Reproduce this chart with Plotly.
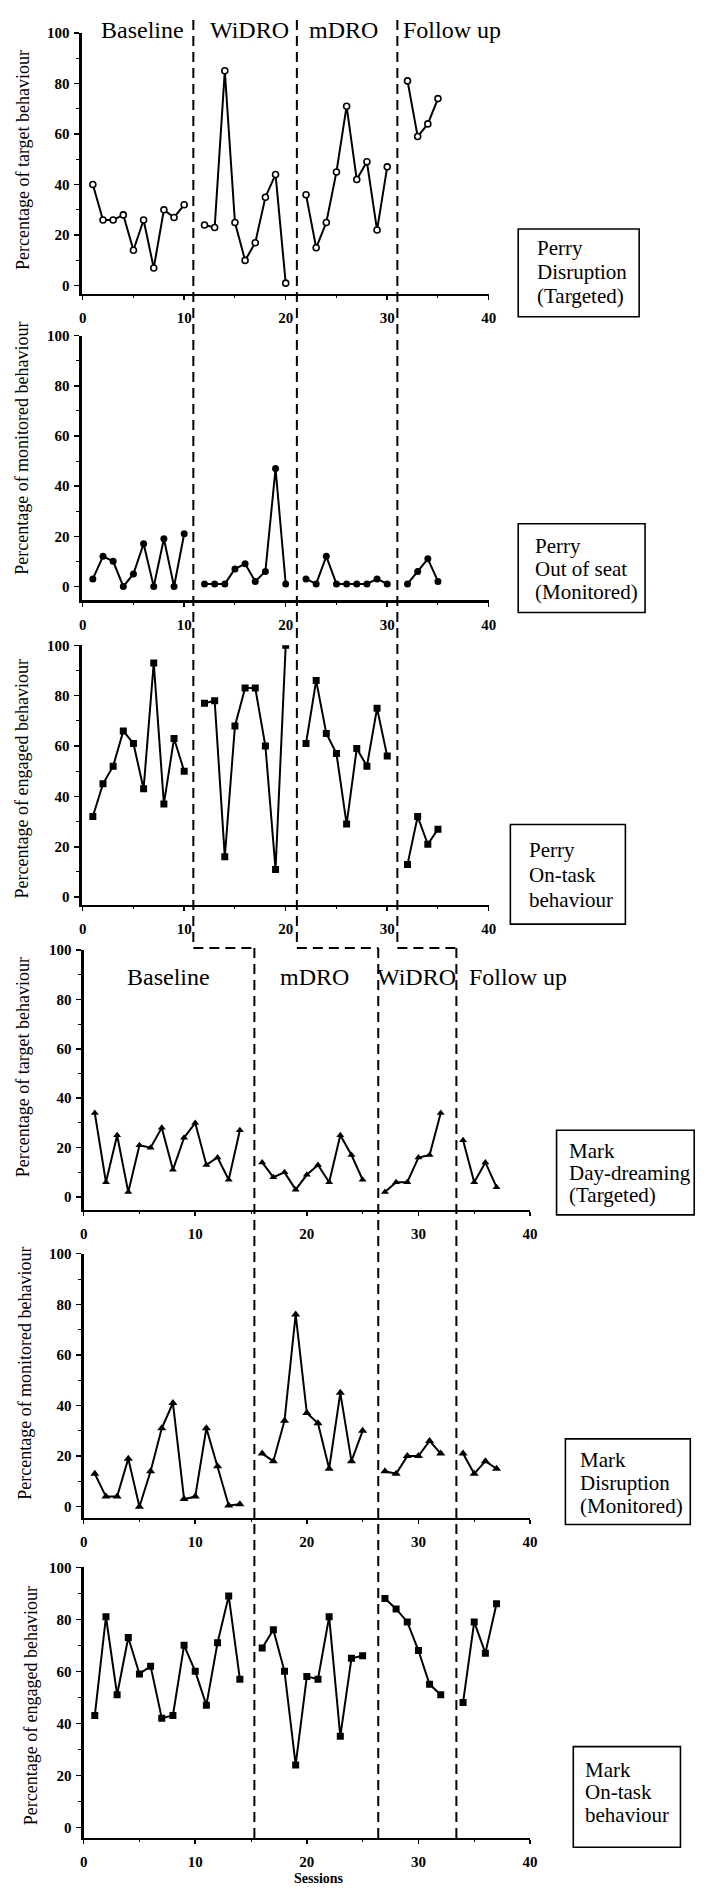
import plotly.graph_objects as go

W, H = 715, 1889
SERIF = "Liberation Serif"

# ---------------- data ----------------
perry_sessions = list(range(1, 36))
perry_disruption = [40, 26, 26, 28, 14, 26, 7, 30, 27, 32, None,
                    24, 23, 85, 25, 10, 17, 35, 44, 1, None,
                    36, 15, 25, 45, 71, 42, 49, 22, 47, None,
                    81, 59, 64, 74]
perry_out_of_seat = [3, 12, 10, 0, 5, 17, 0, 19, 0, 21, None,
                     1, 1, 1, 7, 9, 2, 6, 47, 1, None,
                     3, 1, 12, 1, 1, 1, 1, 3, 1, None,
                     1, 6, 11, 2]
perry_on_task = [32, 45, 52, 66, 61, 43, 93, 37, 63, 50, None,
                 77, 78, 16, 68, 83, 83, 60, 11, 100, None,
                 61, 86, 65, 57, 29, 59, 52, 75, 56, None,
                 13, 32, 21, 27]

mark_sessions = list(range(1, 38))
mark_daydreaming = [34, 6, 25, 2, 21, 20, 28, 11, 24, 30, 13, 16, 7, 27, None,
                    14, 8, 10, 3, 9, 13, 6, 25, 17, 7, None,
                    2, 6, 6, 16, 17, 34, None,
                    23, 6, 14, 4]
mark_disruption = [13, 4, 4, 19, 0, 14, 31, 41, 3, 4, 31, 16, 0.5, 1, None,
                   21, 18, 34, 76, 37, 33, 15, 45, 18, 30, None,
                   14, 13, 20, 20, 26, 21, None,
                   21, 13, 18, 15]
mark_on_task = [43, 81, 51, 73, 59, 62, 42, 43, 70, 60, 47, 71, 89, 57, None,
                69, 76, 60, 24, 58, 57, 81, 35, 65, 66, None,
                88, 84, 79, 68, 55, 51, None,
                48, 79, 67, 86]

perry_phases = ["Baseline", "WiDRO", "mDRO", "Follow up"]
mark_phases = ["Baseline", "mDRO", "WiDRO", "Follow up"]
perry_phase_changes = [10.9, 21.1, 31.0]
mark_phase_changes = [15.3, 26.4, 33.4]

x_ticks = [0, 10, 20, 30, 40]
y_ticks = [0, 20, 40, 60, 80, 100]

# ---------------- layout helpers ----------------
def px_x(p):
    return p / W

def px_y(p):
    return 1 - p / H

PERRY_X = (79, 493)
MARK_X = (81, 535)
PERRY_RANGE = [-0.1, 40]
MARK_RANGE = [0, 40]

panels = [
    dict(x=perry_sessions, y=perry_disruption, xd=PERRY_X, xr=PERRY_RANGE,
         top=25, bot=287, ymin=-3.2, title="Percentage of target behaviour",
         tx=20, ty=153, marker=dict(symbol="circle", size=6, color="white",
                                    line=dict(color="black", width=1.6)),
         box=(523, 222, 646, 310), tx0=540, lines_y=(241, 265, 289),
         label=["Perry", "Disruption", "(Targeted)"]),
    dict(x=perry_sessions, y=perry_out_of_seat, xd=PERRY_X, xr=PERRY_RANGE,
         top=329, bot=595, ymin=-5.6, title="Percentage of monitored behaviour",
         tx=18, ty=442, marker=dict(symbol="circle", size=7, color="black"),
         box=(523, 518, 652, 607), tx0=538, lines_y=(540, 563, 586),
         label=["Perry", "Out of seat", "(Monitored)"]),
    dict(x=perry_sessions, y=perry_on_task, xd=PERRY_X, xr=PERRY_RANGE,
         top=640, bot=901, ymin=-3.2, title="Percentage of engaged behaviour",
         tx=18, ty=774, marker=dict(symbol="square", size=7, color="black"),
         box=(515, 820, 632, 920), tx0=532, lines_y=(846, 871, 896),
         label=["Perry", "On-task", "behaviour"]),
    dict(x=mark_sessions, y=mark_daydreaming, xd=MARK_X, xr=MARK_RANGE,
         top=946, bot=1207, ymin=-5.2, title="Percentage of target behaviour",
         tx=20, ty=1064, marker=dict(symbol="triangle-up", size=7, color="black"),
         box=(562, 1127, 702, 1212), tx0=573, lines_y=(1148, 1170, 1192),
         label=["Mark", "Day-dreaming", "(Targeted)"]),
    dict(x=mark_sessions, y=mark_disruption, xd=MARK_X, xr=MARK_RANGE,
         top=1251, bot=1516, ymin=-4.3, title="Percentage of monitored behaviour",
         tx=22, ty=1371, marker=dict(symbol="triangle-up", size=8, color="black"),
         box=(571, 1437, 698, 1523), tx0=584, lines_y=(1458, 1481, 1504),
         label=["Mark", "Disruption", "(Monitored)"]),
    dict(x=mark_sessions, y=mark_on_task, xd=MARK_X, xr=MARK_RANGE,
         top=1566, bot=1838, ymin=-4.2, title="Percentage of engaged behaviour",
         tx=27, ty=1705, marker=dict(symbol="square", size=7, color="black"),
         box=(579, 1746, 688, 1847), tx0=589, lines_y=(1769, 1792, 1815),
         label=["Mark", "On-task", "behaviour"]),
]

fig = go.Figure()
layout = dict(
    width=W, height=H, margin=dict(l=0, r=0, t=0, b=0),
    paper_bgcolor="white", plot_bgcolor="white", showlegend=False,
    font=dict(family=SERIF, color="black"),
)
annotations = []
shapes = []

for i, p in enumerate(panels, start=1):
    xa = "xaxis" if i == 1 else f"xaxis{i}"
    ya = "yaxis" if i == 1 else f"yaxis{i}"
    xr = "x" if i == 1 else f"x{i}"
    yr = "y" if i == 1 else f"y{i}"
    fig.add_trace(go.Scatter(
        x=p["x"], y=p["y"], mode="lines+markers", xaxis=xr, yaxis=yr,
        line=dict(color="black", width=2), marker=p["marker"],
        connectgaps=False, hoverinfo="skip"))
    layout[xa] = dict(
        domain=[px_x(p["xd"][0]), px_x(p["xd"][1])], range=p["xr"], anchor=yr,
        showline=True, linecolor="black", linewidth=2.2, mirror=False,
        ticks="outside", ticklen=4, tickwidth=1.5, tickcolor="black",
        tickvals=x_ticks, showgrid=False, zeroline=False,
        tickfont=dict(family=SERIF, size=15, weight="bold"),
        ticklabelstandoff=5,
        minor=dict(dtick=5, ticklen=2, tickwidth=1, tickcolor="black", ticks="outside"),
    )
    layout[ya] = dict(
        domain=[px_y(p["bot"]), px_y(p["top"])], range=[p["ymin"], 100], anchor=xr,
        showline=True, linecolor="black", linewidth=2.2,
        ticks="outside", ticklen=5, tickwidth=1.5, tickcolor="black",
        tickvals=y_ticks, showgrid=False, zeroline=False,
        tickfont=dict(family=SERIF, size=15, weight="bold"),
        ticklabelstandoff=2,
        minor=dict(dtick=10, ticklen=3, tickwidth=1, tickcolor="black", ticks="outside"),
    )
    annotations.append(dict(
        text=p["title"], textangle=-90, xref="paper", yref="paper",
        x=px_x(p["tx"]), y=px_y(p["ty"]), xanchor="center", yanchor="middle",
        showarrow=False, font=dict(family=SERIF, size=18)))
    bx0, by0, bx1, by1 = p["box"]
    shapes.append(dict(type="rect", xref="paper", yref="paper",
                       x0=px_x(bx0), x1=px_x(bx1), y0=px_y(by1), y1=px_y(by0),
                       line=dict(color="black", width=1.6), fillcolor="rgba(0,0,0,0)"))
    for line_txt, ly in zip(p["label"], p["lines_y"]):
        annotations.append(dict(
            text=line_txt, xref="paper", yref="paper",
            x=px_x(p["tx0"]), y=px_y(ly),
            xanchor="left", yanchor="middle", showarrow=False,
            font=dict(family=SERIF, size=21)))

# phase labels
perry_label_x = [141, 250, 345, 456]
mark_label_x = [167, 316, 420, 523]
for name, cx in zip(perry_phases, perry_label_x):
    annotations.append(dict(text=name, xref="paper", yref="paper", x=px_x(cx), y=px_y(22),
                            xanchor="center", yanchor="middle", showarrow=False,
                            font=dict(family=SERIF, size=24)))
for name, cx in zip(mark_phases, mark_label_x):
    annotations.append(dict(text=name, xref="paper", yref="paper", x=px_x(cx), y=px_y(973),
                            xanchor="center", yanchor="middle", showarrow=False,
                            font=dict(family=SERIF, size=24)))

annotations.append(dict(text="<b>Sessions</b>", xref="paper", yref="paper",
                        x=px_x(320), y=px_y(1878), xanchor="center", yanchor="middle",
                        showarrow=False, font=dict(family=SERIF, size=14)))

# phase change dashed lines
def to_paper_x(v, dom, rng):
    return (dom[0] + (v - rng[0]) / (rng[1] - rng[0]) * (dom[1] - dom[0])) / W

DASH = dict(color="black", width=2, dash="10px,6px")
JOIN_Y = 944
for pv, mv in zip(perry_phase_changes, mark_phase_changes):
    shapes.append(dict(type="line", xref="x", yref="paper", x0=pv, x1=pv,
                       y0=px_y(12), y1=px_y(JOIN_Y), line=DASH))
    shapes.append(dict(type="line", xref="paper", yref="paper",
                       x0=to_paper_x(pv, PERRY_X, PERRY_RANGE),
                       x1=to_paper_x(mv, MARK_X, MARK_RANGE),
                       y0=px_y(JOIN_Y), y1=px_y(JOIN_Y), line=DASH))
    shapes.append(dict(type="line", xref="x4", yref="paper", x0=mv, x1=mv,
                       y0=px_y(JOIN_Y), y1=px_y(1842), line=DASH))

layout["annotations"] = annotations
layout["shapes"] = shapes
fig.update_layout(**layout)
fig.write_html("out.html", config={"displayModeBar": False, "staticPlot": True},
               post_script="document.body.style.margin='0';document.body.style.overflow='hidden';")
